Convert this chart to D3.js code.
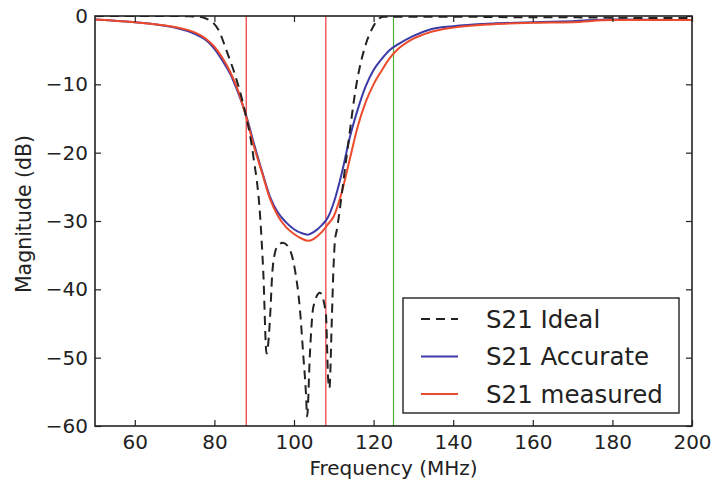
<!DOCTYPE html>
<html>
<head>
<meta charset="utf-8">
<script src="https://cdn.jsdelivr.net/npm/d3@7"></script>
<style>
    body { margin: 0; background: #fff; }
    text { font-family: "DejaVu Sans", sans-serif; fill: #222; }
</style>
</head>
<body>
<div id="chart"></div>
<script>
// frequency (MHz) and S21 (dB)
const idealFreq = [50, 60, 70, 74, 76, 78, 80, 81, 83, 85.6, 87.2, 89.8, 91.5, 92.3, 93.1,
    94.0, 94.5, 95.2, 96.05, 97.2, 98.6, 100.25, 101.5, 102.3, 103.0, 103.3,
    104.0, 104.85, 106.5, 108.0, 108.6, 108.9, 109.5, 109.9, 110.3, 110.7,
    113.2, 115.75, 118, 119.85, 121, 122.4, 130, 140, 150, 160, 170, 180, 190, 200];
const idealDb = [0, 0, 0, -0.05, -0.1, -0.4, -1.2, -2, -5, -9.4, -12.8, -20.6, -29.4, -37.7, -49.4,
    -44, -38, -34.7, -33.5, -33.2, -33.8, -37.2, -43, -49.4, -55.2, -58.6,
    -49.4, -42.6, -40.5, -43.5, -53.3, -54.5, -44.5, -37.2, -32.8, -31.5,
    -20.6, -9.8, -4.2, -1.6, -0.6, -0.1, -0.1, -0.1, -0.15, -0.2, -0.2, -0.25, -0.3, -0.3];

const simFreq = [50, 55, 60, 65, 70, 75, 78, 80, 82, 84, 86, 88, 90, 92, 94, 96, 98, 100, 102,
    103.5, 105, 107, 108.5, 110, 112, 114, 116, 118, 120, 122, 124, 126, 130, 134,
    140, 150, 160, 170, 180, 190, 200];
const accurateDb = [-0.5, -0.7, -0.9, -1.2, -1.7, -2.6, -3.6, -4.8, -6.5, -8.5, -11.3, -14.6,
    -18.8, -22.8, -26.5, -28.8, -30.2, -31.2, -31.8, -32.0, -31.6, -30.6, -29.5, -27.3,
    -23.0, -17.8, -13.7, -10.3, -7.9, -6.3, -5.0, -4.2, -2.9, -2.0, -1.5, -1.1, -0.9,
    -0.75, -0.5, -0.55, -0.6];
const measuredDb = [-0.5, -0.7, -0.9, -1.2, -1.6, -2.4, -3.4, -4.5, -6.1, -8.2, -11.0, -14.8,
    -19.2, -23.0, -26.8, -29.3, -30.9, -31.9, -32.6, -32.9, -32.6, -31.6, -30.5, -29.3,
    -25.8, -21.0, -16.2, -12.6, -10.0, -8.0, -6.2, -4.9, -3.3, -2.4, -1.7, -1.2, -1.0,
    -0.9, -0.6, -0.6, -0.6];

const bandEdges = [88, 108];   // red markers
const cutoff = 125;            // green marker
const xTicks = [60, 80, 100, 120, 140, 160, 180, 200];
const yTicks = [0, -10, -20, -30, -40, -50, -60];
const legendLabels = ["S21 Ideal", "S21 Accurate", "S21 measured"];

const width = 714;
const height = 480;
const margin = { top: 16, right: 22, bottom: 54, left: 95 };
const innerW = width - margin.left - margin.right;
const innerH = height - margin.top - margin.bottom;

const svg = d3.select("#chart")
    .append("svg")
    .attr("width", width)
    .attr("height", height);

const g = svg.append("g")
    .attr("transform", `translate(${margin.left},${margin.top})`);

const xScale = d3.scaleLinear().domain([50, 200]).range([0, innerW]);
const yScale = d3.scaleLinear().domain([-60, 0]).range([innerH, 0]);

g.append("clipPath").attr("id", "plot-clip")
    .append("rect").attr("width", innerW).attr("height", innerH);

const plot = g.append("g").attr("clip-path", "url(#plot-clip)");

// marker lines
bandEdges.forEach(f => {
    plot.append("line")
        .attr("x1", xScale(f)).attr("x2", xScale(f))
        .attr("y1", 0).attr("y2", innerH)
        .attr("stroke", "#f0353a").attr("stroke-width", 1.2);
});
plot.append("line")
    .attr("x1", xScale(cutoff)).attr("x2", xScale(cutoff))
    .attr("y1", 0).attr("y2", innerH)
    .attr("stroke", "#4fae3c").attr("stroke-width", 1.2);

const line = d3.line()
    .x(d => xScale(d[0]))
    .y(d => yScale(d[1]))
    .curve(d3.curveMonotoneX);

plot.append("path")
    .datum(simFreq.map((f, i) => [f, accurateDb[i]]))
    .attr("d", line)
    .attr("fill", "none")
    .attr("stroke", "#3a3aa8")
    .attr("stroke-width", 2);

plot.append("path")
    .datum(simFreq.map((f, i) => [f, measuredDb[i]]))
    .attr("d", line)
    .attr("fill", "none")
    .attr("stroke", "#ec4a2c")
    .attr("stroke-width", 2);

plot.append("path")
    .datum(idealFreq.map((f, i) => [f, idealDb[i]]))
    .attr("d", line)
    .attr("fill", "none")
    .attr("stroke", "#222")
    .attr("stroke-width", 2)
    .attr("stroke-dasharray", "9,6");

// axes with inward ticks on all sides
const tickLen = 6;
const axisStyle = sel => {
    sel.select(".domain").remove();
    sel.selectAll(".tick line").attr("stroke", "#222").attr("stroke-width", 1.2);
    sel.selectAll(".tick text")
        .style("font-size", "20px")
        .attr("fill", "#222");
};

g.append("g")
    .attr("transform", `translate(0,${innerH})`)
    .call(d3.axisBottom(xScale).tickValues(xTicks).tickSizeInner(-tickLen).tickSizeOuter(0).tickPadding(9))
    .call(axisStyle)
    .selectAll(".tick text").attr("dy", "0.71em");

g.append("g")
    .call(d3.axisTop(xScale).tickValues(xTicks).tickSizeInner(-tickLen).tickSizeOuter(0).tickFormat(""))
    .call(axisStyle);

g.append("g")
    .call(d3.axisLeft(yScale).tickValues(yTicks).tickSizeInner(-tickLen).tickSizeOuter(0).tickPadding(7)
        .tickFormat(d => d < 0 ? "\u2212" + Math.abs(d) : d))
    .call(axisStyle);

g.append("g")
    .attr("transform", `translate(${innerW},0)`)
    .call(d3.axisRight(yScale).tickValues(yTicks).tickSizeInner(-tickLen).tickSizeOuter(0).tickFormat(""))
    .call(axisStyle);

g.append("rect")
    .attr("width", innerW)
    .attr("height", innerH)
    .attr("fill", "none")
    .attr("stroke", "#222")
    .attr("stroke-width", 1.6);

svg.append("text")
    .attr("x", margin.left + innerW / 2)
    .attr("y", 475)
    .attr("text-anchor", "middle")
    .style("font-size", "20px")
    .text("Frequency (MHz)");

svg.append("text")
    .attr("transform", "translate(31,214) rotate(-90)")
    .attr("text-anchor", "middle")
    .style("font-size", "20.5px")
    .text("Magnitude (dB)");

// legend
const legend = g.append("g")
    .attr("transform", `translate(${403 - margin.left},${298 - margin.top})`);

legend.append("rect")
    .attr("width", 276)
    .attr("height", 115)
    .attr("fill", "#fff")
    .attr("stroke", "#222")
    .attr("stroke-width", 1.4);

const legendStyles = [
    { color: "#222", dash: "9,6" },
    { color: "#3a3aa8", dash: null },
    { color: "#ec4a2c", dash: null }
];

legendLabels.forEach((label, i) => {
    const y = 21 + i * 37.5;
    legend.append("line")
        .attr("x1", 18).attr("x2", 55)
        .attr("y1", y).attr("y2", y)
        .attr("stroke", legendStyles[i].color)
        .attr("stroke-width", 2)
        .attr("stroke-dasharray", legendStyles[i].dash);
    legend.append("text")
        .attr("x", 83)
        .attr("y", y)
        .attr("dy", "0.36em")
        .style("font-size", "24.5px")
        .text(label);
});
</script>
</body>
</html>
